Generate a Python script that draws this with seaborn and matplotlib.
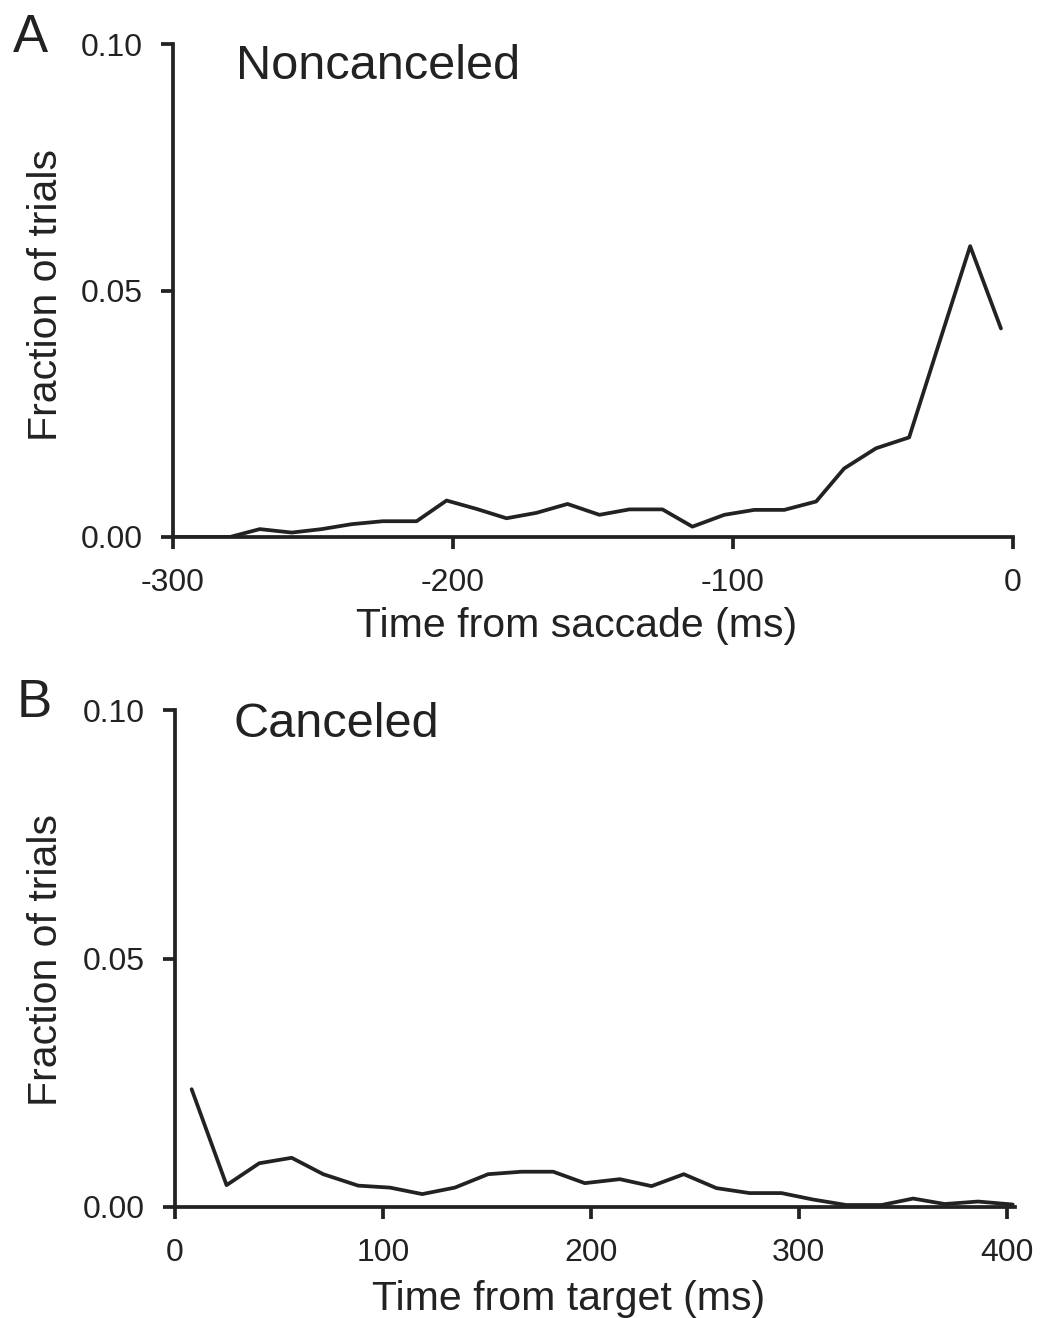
import matplotlib
matplotlib.use("Agg")
import matplotlib.pyplot as plt
import seaborn as sns
import numpy as np

# ---- data ----
time_noncanceled = [-300.0, -289.3, -279.7, -269.0, -257.6, -246.9, -236.2, -225.1,
                    -213.0, -202.3, -191.6, -180.9, -170.2, -159.1, -147.7, -137.0,
                    -125.2, -114.5, -103.1, -92.4, -81.7, -70.3, -60.3, -48.9,
                    -37.1, -26.4, -15.3, -4.3]
frac_noncanceled = [0.0, 0.0, 0.0, 0.0016, 0.0009, 0.0016, 0.0026, 0.0032,
                    0.0032, 0.0074, 0.0057, 0.0038, 0.0049, 0.0067, 0.0045, 0.0056,
                    0.0056, 0.0021, 0.0045, 0.0055, 0.0055, 0.0072, 0.0139, 0.0180,
                    0.0202, 0.0393, 0.0590, 0.0423]

time_canceled = [8.0, 24.8, 40.5, 56.1, 71.3, 88.1, 103.4, 118.9, 134.6, 150.6,
                 166.7, 181.9, 197.1, 213.9, 229.2, 244.7, 260.4, 276.4, 291.7,
                 306.9, 322.9, 339.8, 355.0, 370.2, 386.2, 402.9]
frac_canceled = [0.0237, 0.0044, 0.0088, 0.0099, 0.0066, 0.0043, 0.0039, 0.0026,
                 0.0039, 0.0066, 0.0071, 0.0071, 0.0048, 0.0056, 0.0042, 0.0066,
                 0.0038, 0.0028, 0.0028, 0.0015, 0.0004, 0.0004, 0.0017, 0.0006,
                 0.0011, 0.0005]

xticks_top = [-300, -200, -100, 0]
xticks_bottom = [0, 100, 200, 300, 400]
yticks = [0.0, 0.05, 0.10]
ytick_labels = ["0.00", "0.05", "0.10"]

# ---- style ----
sns.set_style("ticks")
plt.rcParams["font.family"] = ["Liberation Sans", "DejaVu Sans"]
plt.rcParams["axes.unicode_minus"] = False

INK = "#222222"
LW = 2.7

fig = plt.figure(figsize=(10.48, 13.18), dpi=100)
W, H = 1048, 1318


def px_axes(l, t, r, b):
    return fig.add_axes([l / W, 1 - b / H, (r - l) / W, (b - t) / H])


ax1 = px_axes(173, 44, 1013, 537)
ax2 = px_axes(175, 710, 1015, 1207)


def style(ax, xticks, xlim, spine_x):
    for s in ["top", "right"]:
        ax.spines[s].set_visible(False)
    for s in ["left", "bottom"]:
        ax.spines[s].set_linewidth(LW)
        ax.spines[s].set_color(INK)
    ax.set_xlim(*xlim)
    ax.set_ylim(0, 0.1)
    ax.spines["bottom"].set_bounds(*spine_x)
    ax.spines["left"].set_bounds(0, 0.1)
    ax.set_xticks(xticks)
    ax.set_xticklabels([str(v) for v in xticks])
    ax.set_yticks(yticks)
    ax.set_yticklabels(ytick_labels)
    ax.tick_params(axis="both", direction="out", length=8.6, width=LW,
                   color=INK, labelcolor=INK, labelsize=23)
    ax.tick_params(axis="x", pad=14)
    ax.tick_params(axis="y", pad=13)
    ax.set_facecolor("white")


sns.lineplot(x=time_noncanceled, y=frac_noncanceled, ax=ax1, color=INK,
             linewidth=LW, estimator=None, sort=False)
style(ax1, xticks_top, (-300, 0), (-300, 0))

sns.lineplot(x=time_canceled, y=frac_canceled, ax=ax2, color=INK,
             linewidth=LW, estimator=None, sort=False)
style(ax2, xticks_bottom, (0, 404), (0, 404))

# axis labels
for ax, xl, xc, xb, yc in [
    (ax1, "Time from saccade (ms)", 576.5, 637, 295),
    (ax2, "Time from target (ms)", 568.5, 1310, 960),
]:
    ax.set_xlabel(xl, fontsize=29.5, color=INK)
    ax.xaxis.label.set_va("baseline")
    ax.xaxis.set_label_coords(xc / W, 1 - xb / H, transform=fig.transFigure)
    ax.set_ylabel("Fraction of trials", fontsize=29.5, color=INK)
    ax.yaxis.label.set_va("center")
    ax.yaxis.label.set_ha("center")
    ax.yaxis.set_label_coords(46 / W, 1 - yc / H, transform=fig.transFigure)

# panel titles and letters
fig.text(236 / W, 1 - 79 / H, "Noncanceled", fontsize=35, color=INK, va="baseline")
fig.text(234 / W, 1 - 737 / H, "Canceled", fontsize=35, color=INK, va="baseline")
fig.text(13 / W, 1 - 52 / H, "A", fontsize=38, color=INK, va="baseline")
fig.text(17 / W, 1 - 717 / H, "B", fontsize=38, color=INK, va="baseline")

fig.savefig("out.png", dpi=100, facecolor="white")
